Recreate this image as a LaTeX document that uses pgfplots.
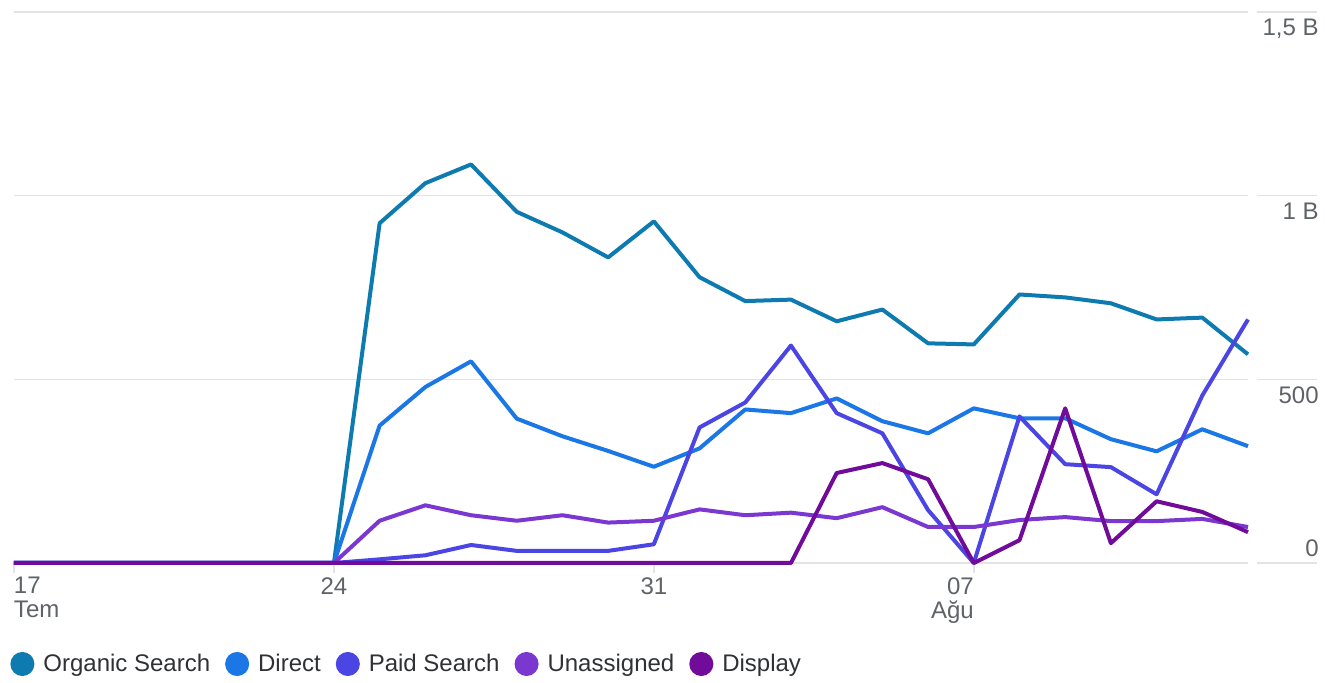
\documentclass[border=0pt]{standalone}
\usepackage{pgfplots}
\usepackage{pgfplotstable}
\pgfplotsset{compat=1.18}
\usepackage{fontspec}
\setmainfont{Liberation Sans}
\definecolor{cOrg}{HTML}{0E7BB0}
\definecolor{cDir}{HTML}{1B77E6}
\definecolor{cPaid}{HTML}{4B45E4}
\definecolor{cUna}{HTML}{7A38D0}
\definecolor{cDis}{HTML}{710C9A}
\definecolor{gridc}{HTML}{E3E3E3}
\definecolor{tickc}{HTML}{5F6368}
\definecolor{legc}{HTML}{303134}

\pgfplotstableread{
day org dir paid una dis
0 0 0 0 0 0
1 0 0 0 0 0
2 0 0 0 0 0
3 0 0 0 0 0
4 0 0 0 0 0
5 0 0 0 0 0
6 0 0 0 0 0
7 0 0 0 0 0
8 925 374 10 115 0
9 1034 479 21 157 0
10 1085 549 49 130 0
11 956 393 33 115 0
12 900 345 33 130 0
13 832 305 33 110 0
14 930 262 51 115 0
15 778 312 369 146 0
16 713 418 437 130 0
17 717 408 592 137 0
18 658 448 408 122 245
19 690 386 353 152 272
20 598 353 144 98 228
21 595 421 0 98 0
22 731 394 399 117 62
23 723 394 269 125 421
24 707 337 261 114 54
25 663 304 187 114 168
26 668 364 456 120 139
27 568 318 663 98 84
}\datatable

\begin{document}
\begin{tikzpicture}
\begin{axis}[
  at={(7pt,60pt)}, anchor=south west,
  scale only axis, width=617pt, height=275.5pt,
  xmin=0, xmax=27, ymin=0, ymax=1500,
  clip=false,
  axis line style={draw=none},
  ymajorgrids, grid style={gridc, line width=0.75pt},
  xtick={0,7,14,21},
  xticklabels={{\rlap{17}\\\rlap{Tem}},24,31,{\llap{07}\\\llap{Ağu}}},
  xtick pos=bottom, tick align=outside, major tick length=5pt,
  xtick style={gridc, line width=1pt},
  xticklabel style={align=center, font=\fontsize{12}{12}\selectfont, text=tickc, inner sep=0pt, yshift=-2pt},
  ytick={500,1000,1500},
  yticklabels={500,1 B,{1,5 B}},
  yticklabel pos=right,
  ytick style={draw=none},
  yticklabel style={anchor=north east, font=\fontsize{12}{12}\selectfont, text=tickc, inner sep=0pt, xshift=30.5pt, yshift=-3.5pt},
  extra y ticks={0},
  extra y tick labels={0},
  extra y tick style={yticklabel style={anchor=south east, yshift=6.5pt}},
  legend columns=-1,
  legend style={at={(0,0)}, anchor=west, xshift=-2pt, yshift=-50.5pt, draw=none, fill=none, inner sep=0pt,
    font=\fontsize{12}{14}\selectfont, text=legc,
    /tikz/every odd column/.append style={column sep=2.5pt},
    /tikz/every even column/.append style={column sep=5.5pt}},
  legend image code/.code={\fill[#1] (5pt,0pt) circle (5pt);},
  every axis plot/.append style={line width=2pt, line join=round},
]
\addplot[color=cOrg] table[x=day,y=org]{\datatable};
\addlegendentry{Organic Search}
\addplot[color=cDir] table[x=day,y=dir]{\datatable};
\addlegendentry{Direct}
\addplot[color=cPaid] table[x=day,y=paid]{\datatable};
\addlegendentry{Paid Search}
\addplot[color=cUna] table[x=day,y=una]{\datatable};
\addlegendentry{Unassigned}
\addplot[color=cDis] table[x=day,y=dis]{\datatable};
\addlegendentry{Display}
\pgfplotsinvokeforeach{0,500,1000,1500}{
  \draw[gridc, line width=0.75pt] ([xshift=4.5pt]axis cs:27,#1) -- ([xshift=34.5pt]axis cs:27,#1);
}
\end{axis}
\pgfresetboundingbox
\path[use as bounding box] (0,0) rectangle (662.5pt,341.5pt);
\end{tikzpicture}
\end{document}
